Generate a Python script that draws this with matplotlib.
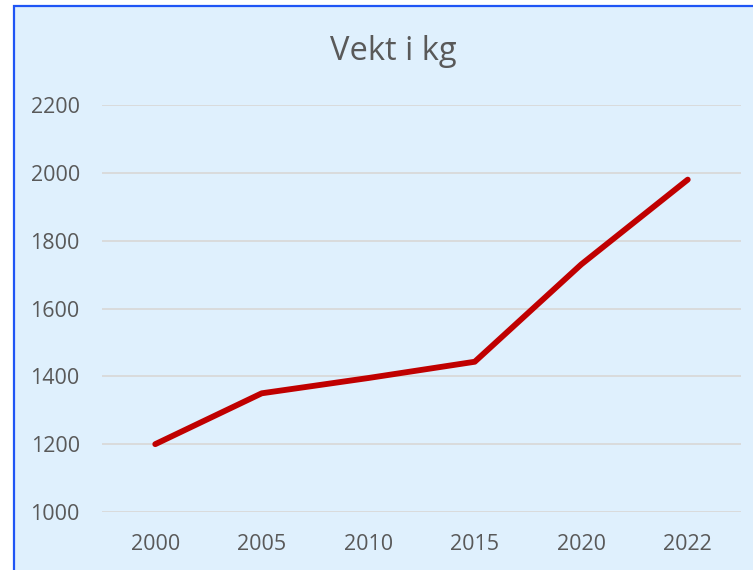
import matplotlib.pyplot as plt
from matplotlib.patches import Rectangle

years = ['2000', '2005', '2010', '2015', '2020', '2022']
vekt = [1200, 1350, 1395, 1443, 1730, 1980]
yticks = [1000, 1200, 1400, 1600, 1800, 2000, 2200]

bg = '#DFF0FD'
grey = '#595959'

fig = plt.figure(figsize=(7.53, 5.70), dpi=100)
fig.patch.set_facecolor('white')

# chart area with blue frame (cut off on the right and bottom like in the screenshot)
frame = Rectangle((14 / 753, -0.05), 1.1, 1.05 - 6 / 570, transform=fig.transFigure,
                  facecolor=bg, edgecolor='#1F55F5', linewidth=1.6, zorder=-1)
fig.patches.append(frame)

ax = fig.add_axes([102 / 753, 1 - 512 / 570, 639 / 753, 407 / 570])
ax.set_zorder(1)
ax.patch.set_visible(False)

x = list(range(len(years)))
ax.plot(x, vekt, color='#C00000', linewidth=4.2, solid_capstyle='round',
        solid_joinstyle='round', zorder=3)

ax.set_xlim(-0.5, len(years) - 0.5)
ax.set_ylim(1000, 2200)
ax.set_xticks(x)
ax.set_xticklabels(years)
ax.set_yticks(yticks)
ax.grid(axis='y', color='#D9D9D9', linewidth=1.3)
ax.set_axisbelow(True)
for s in ax.spines.values():
    s.set_visible(False)
ax.tick_params(length=0, labelcolor=grey, labelsize=15.5)
ax.tick_params(axis='y', pad=16)
ax.tick_params(axis='x', pad=16)
for lab in ax.get_xticklabels() + ax.get_yticklabels():
    lab.set_fontfamily('Open Sans')

fig.text(393 / 753, 1 - 52 / 570, 'Vekt i kg', ha='center', va='center',
         fontsize=23.5, color=grey, fontfamily='Open Sans')

fig.savefig('out.png', dpi=100, facecolor=fig.get_facecolor())
